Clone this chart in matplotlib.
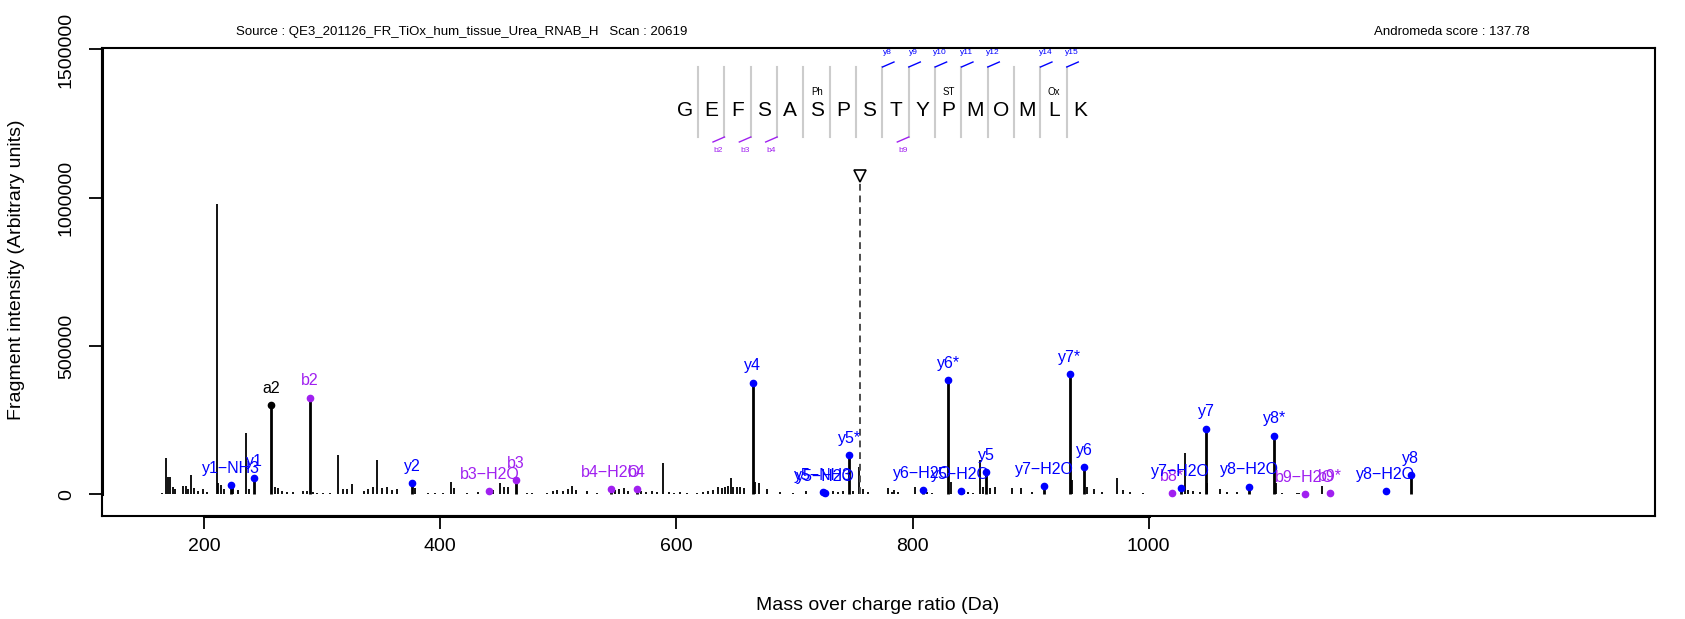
import matplotlib
matplotlib.use("Agg")
import matplotlib.pyplot as plt
import matplotlib.transforms as mtransforms
from matplotlib.lines import Line2D

plt.rcParams['font.family'] = ['Liberation Sans', 'DejaVu Sans']

# unannotated fragment peaks
noise_mz = [164.0, 167.6, 169.6, 171.0, 173.3, 175.3, 182.3, 184.6, 186.5, 189.1, 191.4, 195.0,
            198.7, 202.1, 210.8, 211.9, 214.2, 216.8, 224.6, 228.4, 235.4, 237.9, 260.2, 262.5,
            265.6, 269.9, 275.0, 283.4, 286.8, 292.4, 295.8, 300.4, 306.6, 313.6, 317.3, 320.7,
            325.0, 335.4, 339.0, 342.7, 346.6, 350.3, 354.6, 358.8, 363.0, 378.6, 389.8, 395.5,
            402.5, 409.0, 411.6, 422.3, 432.2, 444.9, 450.6, 453.9, 457.6, 473.7, 477.4, 490.6,
            495.7, 499.1, 503.7, 508.4, 511.8, 514.9, 524.0, 533.0, 548.0, 551.6, 555.6, 559.2,
            569.7, 574.2, 579.0, 583.3, 588.9, 594.0, 597.9, 603.0, 608.7, 617.2, 622.2, 627.0,
            631.3, 635.5, 638.3, 641.1, 643.9, 646.0, 648.2, 651.1, 653.9, 657.2, 666.5, 670.2,
            676.4, 687.7, 698.5, 709.7, 732.9, 737.1, 741.3, 749.8, 754.9, 758.3, 762.5, 779.5,
            782.3, 784.3, 787.9, 802.1, 812.5, 816.2, 832.3, 843.6, 847.2, 851.5, 857.1, 859.4,
            865.6, 869.8, 884.0, 891.6, 900.9, 934.8, 947.5, 953.7, 960.2, 972.9, 978.5, 984.2,
            995.5, 1030.8, 1033.6, 1037.8, 1043.5, 1049.7, 1060.4, 1066.6, 1074.6, 1107.6, 1112.7,
            1125.4, 1127.6, 1146.6, 1170.0, 1258.0, 1396.4]
noise_int = [3000, 121000, 59000, 59000, 24000, 17000, 28000, 28000, 17000, 65000, 20000, 12000,
             17000, 9000, 978000, 37000, 31000, 17000, 24000, 14000, 206000, 17000, 24000, 20000,
             12000, 9000, 9000, 12000, 12000, 9000, 5000, 5000, 5000, 132000, 17000, 17000,
             35000, 12000, 17000, 24000, 116000, 20000, 24000, 14000, 17000, 20000, 3000, 3000,
             5000, 42000, 20000, 3000, 9000, 14000, 37000, 24000, 24000, 5000, 5000, 5000,
             12000, 14000, 12000, 17000, 28000, 14000, 12000, 5000, 14000, 17000, 20000, 12000,
             12000, 9000, 12000, 9000, 107000, 9000, 5000, 9000, 5000, 5000, 9000, 12000,
             14000, 24000, 20000, 24000, 28000, 56000, 24000, 24000, 24000, 20000, 42000, 39000,
             17000, 9000, 5000, 12000, 12000, 9000, 12000, 12000, 93000, 17000, 9000, 20000,
             9000, 14000, 9000, 24000, 9000, 5000, 42000, 14000, 9000, 5000, 116000, 24000,
             20000, 24000, 20000, 20000, 9000, 48000, 24000, 17000, 9000, 54000, 14000, 9000,
             5000, 140000, 14000, 12000, 9000, 37000, 17000, 9000, 9000, 37000, 3000,
             5000, 5000, 28000, 2000, 1000, 1000]

# annotated ions
ion_mz = [222.4, 242.4, 256.6, 289.6, 376.3, 441.5, 463.8, 544.6, 566.3, 664.6, 723.9, 725.8,
          746.4, 808.6, 840.8, 830.3, 862.2, 911.3, 933.3, 945.5, 1019.5, 1027.1, 1048.5,
          1085.0, 1106.4, 1132.4, 1153.6, 1201.0, 1222.2]
ion_int = [31000, 54000, 300000, 326000, 37000, 12000, 48000, 18000, 18000, 377000, 8000, 3000,
           132000, 14000, 12000, 384000, 74000, 29000, 406000, 93000, 3000, 20000, 222000,
           26000, 198000, 1000, 5000, 12000, 65000]
ion_labels = ['y1−NH3', 'y1', 'a2', 'b2', 'y2', 'b3−H2O', 'b3', 'b4−H2O', 'b4', 'y4', 'y5−NH3',
              'y5−H2O', 'y5*', 'y6−H2O', 'y5−H2O', 'y6*', 'y5', 'y7−H2O', 'y7*', 'y6', 'b8*',
              'y7−H2O', 'y7', 'y8−H2O', 'y8*', 'b9−H2O', 'b9*', 'y8−H2O', 'y8']

precursor_mz = 755.2
precursor_int = 1050000

sequence = list("GEFSASPSTYPMOMLK")
modifications = {5: 'Ph', 10: 'ST', 14: 'Ox'}
y_marks = [(7, 'y8'), (8, 'y9'), (9, 'y10'), (10, 'y11'), (11, 'y12'), (13, 'y14'), (14, 'y15')]
b_marks = [(1, 'b2'), (2, 'b3'), (3, 'b4'), (8, 'b9')]

source_text = "Source : QE3_201126_FR_TiOx_hum_tissue_Urea_RNAB_H   Scan : 20619"
score_text = "Andromeda score : 137.78"

colours = {'y': '#0000FF', 'b': '#A020F0', 'a': 'black'}

W, H = 1685, 619
L, R, T, B = 102, 1655, 48, 516


def fx(px):
    return px / W


def fy(py):
    return 1 - py / H


fig = plt.figure(figsize=(W / 100, H / 100), dpi=100)
ax = fig.add_axes([fx(L), fy(B), (R - L) / W, (B - T) / H])

ax.vlines(noise_mz, 0, noise_int, color='black', linewidth=1.3)
ax.vlines(ion_mz, 0, ion_int, color='black', linewidth=2.0)
for mz, inten, lab in zip(ion_mz, ion_int, ion_labels):
    c = colours[lab[0]]
    ax.plot(mz, inten, 'o', color=c, markersize=4.5, zorder=3)
    ax.annotate(lab, (mz, inten), xytext=(0, 12), textcoords='offset points',
                ha='center', va='center', color=c, fontsize=11.5)

# precursor
ax.vlines(precursor_mz, 0, precursor_int, color='0.3', linewidth=1.4, linestyles=(0, (3.5, 2.5)))
ax.plot(precursor_mz, precursor_int, 'v', markersize=9, markerfacecolor='white',
        markeredgecolor='black', markeredgewidth=1.2, zorder=4,
        transform=ax.transData + mtransforms.ScaledTranslation(0, 5 / 72, fig.dpi_scale_trans))

ax.set_xlim(113.4, 1428.9)
ax.set_ylim(-73000, 1505000)
xticks = [200, 400, 600, 800, 1000]
yticks = [0, 500000, 1000000, 1500000]
ax.set_xticks(xticks)
ax.set_yticks(yticks)
ax.set_yticklabels(['0', '500000', '1000000', '1500000'], rotation=90, va='center')
ax.tick_params(direction='out', length=9.5, width=1.3, labelsize=14)
ax.tick_params(axis='x', pad=6)
ax.tick_params(axis='y', pad=10)
for s in ax.spines.values():
    s.set_linewidth(1.5)
# axis lines over the box, spanning the tick range
ax.plot([xticks[0], xticks[-1]], [0, 0], color='black', linewidth=2.2, clip_on=False,
        transform=mtransforms.blended_transform_factory(ax.transData, ax.transAxes))
ax.plot([0, 0], [yticks[0], yticks[-1]], color='black', linewidth=2.2, clip_on=False,
        transform=mtransforms.blended_transform_factory(ax.transAxes, ax.transData))

fig.text(fx(878), fy(605), "Mass over charge ratio (Da)", ha='center', va='center', fontsize=14)
fig.text(fx(17), fy(270), "Fragment intensity (Arbitrary units)", ha='center', va='center',
         rotation=90, fontsize=14)
fig.text(fx(462), fy(32), source_text, ha='center', va='center', fontsize=9.5)
fig.text(fx(1452), fy(32), score_text, ha='center', va='center', fontsize=9.5)

# peptide sequence with fragment coverage
x0, step = 685, 26.33
for i, aa in enumerate(sequence):
    fig.text(fx(x0 + i * step), fy(111), aa, ha='center', va='center', fontsize=15)
    if i in modifications:
        fig.text(fx(x0 + i * step), fy(92), modifications[i], ha='center', va='center', fontsize=7)
for i in range(len(sequence) - 1):
    sx = x0 + (i + 0.5) * step
    fig.add_artist(Line2D([fx(sx), fx(sx)], [fy(67), fy(137)], color='#CCCCCC', linewidth=1.5))
for i, lab in y_marks:
    sx = x0 + (i + 0.5) * step
    fig.add_artist(Line2D([fx(sx), fx(sx + 11.5)], [fy(67), fy(62)], color=colours['y'], linewidth=1.0))
    fig.text(fx(sx + 5), fy(53), lab, ha='center', va='center', fontsize=6, color=colours['y'])
for i, lab in b_marks:
    sx = x0 + (i + 0.5) * step
    fig.add_artist(Line2D([fx(sx), fx(sx - 11.5)], [fy(137), fy(142)], color=colours['b'], linewidth=1.0))
    fig.text(fx(sx - 6), fy(151), lab, ha='center', va='center', fontsize=6, color=colours['b'])

fig.savefig('out.png', dpi=100)
